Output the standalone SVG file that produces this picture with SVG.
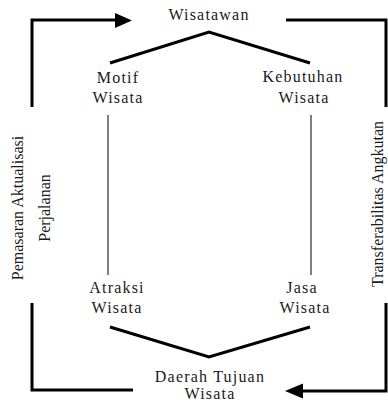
<svg xmlns="http://www.w3.org/2000/svg" width="388" height="403" viewBox="0 0 388 403">
<style>
.lbl{font-family:"Liberation Serif","Times New Roman",serif;font-size:16px;letter-spacing:1.2px;fill:#1a1a1a;text-anchor:middle}
.side{font-family:"Liberation Serif","Times New Roman",serif;font-size:16px;fill:#1a1a1a;text-anchor:middle}
.thick{fill:none;stroke:#000;stroke-width:3;stroke-linejoin:miter}
.thin{fill:none;stroke:#000;stroke-width:1}
.head{fill:#000}
</style>
<rect width="388" height="403" fill="#fff"/>
<g id="connectors">
<path class="thick" d="M32,107 V20 H117"/>
<polygon class="head" points="115,13 132,20.5 115,28"/>
<path class="thick" d="M286,20 H386 V107"/>
<path class="thick" d="M32,303 V390 H133"/>
<path class="thick" d="M386,303 V391 H301"/>
<polygon class="head" points="303,383.5 285,391 303,398.5"/>
<path class="thick" d="M110,63 L209,32 L310,63"/>
<path class="thick" d="M110,327 L209,357 L310,327"/>
<line class="thin" x1="108" y1="115" x2="108" y2="275"/>
<line class="thin" x1="311" y1="115" x2="311" y2="275"/>
</g>
<g id="wisatawan"><text class="lbl" x="209" y="20">Wisatawan</text></g>
<g id="motif"><text class="lbl" x="118" y="83">Motif</text><text class="lbl" x="118" y="103">Wisata</text></g>
<g id="kebutuhan"><text class="lbl" x="303" y="82">Kebutuhan</text><text class="lbl" x="304" y="103">Wisata</text></g>
<g id="atraksi"><text class="lbl" x="117" y="293">Atraksi</text><text class="lbl" x="117" y="313">Wisata</text></g>
<g id="jasa"><text class="lbl" x="302" y="293">Jasa</text><text class="lbl" x="305" y="313">Wisata</text></g>
<g id="daerah"><text class="lbl" x="210" y="382">Daerah Tujuan</text><text class="lbl" x="210" y="399">Wisata</text></g>
<g id="pemasaran">
<text class="side" transform="translate(23,208) rotate(-90)">Pemasaran Aktualisasi</text>
<text class="side" transform="translate(50,208) rotate(-90)">Perjalanan</text>
</g>
<g id="transferabilitas">
<text class="side" transform="translate(383,204) rotate(-90)">Transferabilitas Angkutan</text>
</g>
</svg>
